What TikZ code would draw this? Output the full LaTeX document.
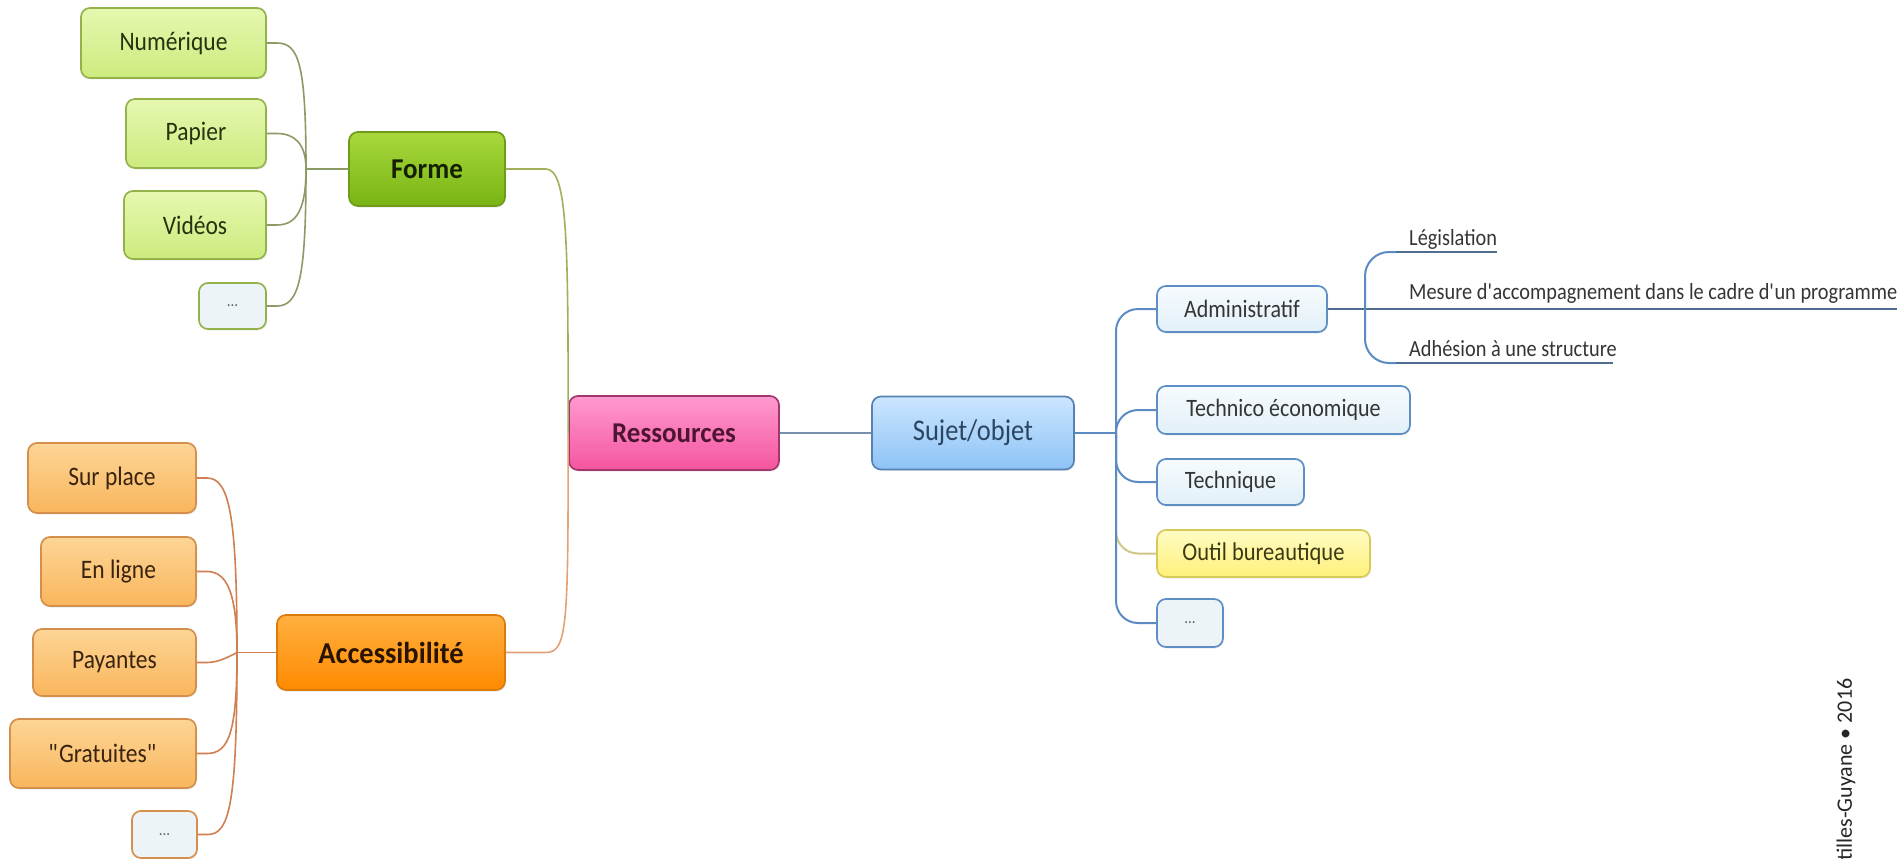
\documentclass[tikz,border=0pt]{standalone}
\usepackage{fontspec}
\setmainfont{Carlito}
\newfontfamily\regf{Carlito}[FakeStretch=0.88]
\newfontfamily\boldf{Carlito}[FakeStretch=0.94]
\usetikzlibrary{shadows}
\definecolor{gTop}{HTML}{E6F8B0}
\definecolor{gBot}{HTML}{CCEB7E}
\definecolor{gBor}{HTML}{93B34A}
\definecolor{gTxt}{HTML}{26330F}
\definecolor{fTop}{HTML}{A8D93C}
\definecolor{fBot}{HTML}{79B414}
\definecolor{fBor}{HTML}{6E9B1A}
\definecolor{fTxt}{HTML}{142000}
\definecolor{oTop}{HTML}{FDD596}
\definecolor{oBot}{HTML}{F9B65C}
\definecolor{oBor}{HTML}{D48F4C}
\definecolor{oTxt}{HTML}{3A2410}
\definecolor{aTop}{HTML}{FFB040}
\definecolor{aBot}{HTML}{FF8A00}
\definecolor{aBor}{HTML}{DB7C0A}
\definecolor{aTxt}{HTML}{2A1400}
\definecolor{rTop}{HTML}{FF9ACF}
\definecolor{rBot}{HTML}{F4559F}
\definecolor{rBor}{HTML}{A3356F}
\definecolor{rTxt}{HTML}{4E1533}
\definecolor{sTop}{HTML}{CBE6FF}
\definecolor{sBot}{HTML}{8EC3F5}
\definecolor{sBor}{HTML}{5683B4}
\definecolor{sTxt}{HTML}{2C4563}
\definecolor{bTop}{HTML}{F6FBFE}
\definecolor{bBot}{HTML}{E2F0F8}
\definecolor{bBor}{HTML}{5D8FC4}
\definecolor{bTxt}{HTML}{353535}
\definecolor{yTop}{HTML}{FFFCC4}
\definecolor{yBot}{HTML}{FFF07A}
\definecolor{yBor}{HTML}{D8CA5A}
\definecolor{yTxt}{HTML}{3B3A12}
\definecolor{dFill}{HTML}{EDF4F8}
\definecolor{dTxt}{HTML}{666666}
\definecolor{fLine}{HTML}{8C9A66}
\definecolor{frLine}{HTML}{A0B05A}
\definecolor{aLine}{HTML}{CF7F50}
\definecolor{arLine}{HTML}{E2A276}
\definecolor{rsLine}{HTML}{7592AA}
\definecolor{bLine}{HTML}{5B8BC2}
\definecolor{yLine}{HTML}{CFC78A}
\definecolor{uLine}{HTML}{4F6E8F}
\begin{document}
\begin{tikzpicture}[x=1pt,y=-1pt,
  box/.style={rounded corners=9pt, line width=1.7pt, inner sep=0pt, align=center,
    drop shadow={shadow xshift=1pt,shadow yshift=-1.5pt,opacity=0.15}},
  gchild/.style={box, draw=gBor, top color=gTop, bottom color=gBot, text=gTxt, font=\regf\fontsize{26.7}{30}\selectfont},
  gdots/.style={box, draw=gBor, fill=dFill, text=dTxt, font=\regf\fontsize{17}{20}\selectfont},
  formebox/.style={box, draw=fBor, top color=fTop, bottom color=fBot, text=fTxt, font=\boldf\fontsize{28.7}{32}\selectfont\bfseries},
  ochild/.style={box, draw=oBor, top color=oTop, bottom color=oBot, text=oTxt, font=\regf\fontsize{26.7}{30}\selectfont},
  odots/.style={box, draw=oBor, fill=dFill, text=dTxt, font=\regf\fontsize{17}{20}\selectfont},
  accbox/.style={box, draw=aBor, top color=aTop, bottom color=aBot, text=aTxt, font=\boldf\fontsize{30.3}{34}\selectfont\bfseries},
  resbox/.style={box, draw=rBor, top color=rTop, bottom color=rBot, text=rTxt, font=\boldf\fontsize{28.7}{32}\selectfont\bfseries},
  sujbox/.style={box, draw=sBor, top color=sTop, bottom color=sBot, text=sTxt, font=\regf\fontsize{30.1}{34}\selectfont},
  bchild/.style={box, draw=bBor, top color=bTop, bottom color=bBot, text=bTxt, font=\regf\fontsize{25}{28}\selectfont},
  bdots/.style={box, draw=bBor, fill=dFill, text=dTxt, font=\regf\fontsize{17}{20}\selectfont},
  ychild/.style={box, draw=yBor, top color=yTop, bottom color=yBot, text=yTxt, font=\regf\fontsize{25.6}{29}\selectfont},
  sublbl/.style={inner sep=0pt, anchor=base west, text=bTxt, font=\regf\fontsize{23.1}{26}\selectfont},
  fcon/.style={draw=fLine, line width=1.6pt},
  frcon/.style={draw=frLine, line width=1.6pt},
  acon/.style={draw=aLine, line width=1.6pt},
  arcon/.style={draw=arLine, line width=1.6pt},
  rscon/.style={draw=rsLine, line width=2pt},
  bcon/.style={draw=bLine, line width=2pt, rounded corners=22pt},
  ycon/.style={draw=yLine, line width=2pt, rounded corners=22pt},
  ucon/.style={draw=uLine, line width=2pt},
  uccon/.style={draw=bLine, line width=2pt, rounded corners=24pt}
]
\useasboundingbox[fill=white] (0,0) rectangle (1899,859);

% ---- Forme branch
\node[gchild, minimum width=185pt, minimum height=70pt] (num) at (173.5,43) {Numérique};
\node[gchild, minimum width=140pt, minimum height=69pt] (pap) at (196,133.5) {Papier};
\node[gchild, minimum width=142pt, minimum height=68pt] (vid) at (195,225) {Vidéos};
\node[gdots, minimum width=67pt, minimum height=46pt] (fdots) at (232.5,306) {...};
\node[formebox, minimum width=156pt, minimum height=74pt] (forme) at (427,169) {Forme};
\coordinate (jf) at (306,169);

% ---- Accessibilite branch
\node[ochild, minimum width=168pt, minimum height=70pt] (sur) at (112,478) {Sur place};
\node[ochild, minimum width=155pt, minimum height=69pt] (enl) at (118.5,571.5) {En ligne};
\node[ochild, minimum width=163pt, minimum height=67pt] (pay) at (114.5,662.5) {Payantes};
\node[ochild, minimum width=186pt, minimum height=69pt] (gra) at (103,753.5) {\textquotedbl Gratuites\textquotedbl};
\node[odots, minimum width=65pt, minimum height=47pt] (adots) at (164.5,834.5) {...};
\node[accbox, minimum width=228pt, minimum height=75pt] (acc) at (391,652.5) {Accessibilité};
\coordinate (ja) at (237,652.5);

% ---- centre
\node[resbox, minimum width=210pt, minimum height=74pt] (res) at (674,433) {Ressources};
\node[sujbox, minimum width=202pt, minimum height=73pt] (suj) at (973,433) {Sujet/objet};
\coordinate (js) at (1116,433);

% ---- Sujet/objet children
\node[bchild, minimum width=170pt, minimum height=46pt] (adm) at (1242,309) {Administratif};
\node[bchild, minimum width=253pt, minimum height=48pt] (tec) at (1283.5,410) {Technico économique};
\node[bchild, minimum width=147pt, minimum height=46pt] (tch) at (1230.5,482) {Technique};
\node[ychild, minimum width=213pt, minimum height=47pt] (out) at (1263.5,553.5) {Outil bureautique};
\node[bdots, minimum width=66pt, minimum height=48pt] (bdots) at (1190,623) {...};

% ---- Administratif sub-items
\node[sublbl] (leg) at (1409,245) {Législation};
\node[sublbl] (mes) at (1409,299) {Mesure d\textquotesingle accompagnement dans le cadre d\textquotesingle un programme};
\node[sublbl] (adh) at (1409,356) {Adhésion à une structure};
\coordinate (ka) at (1365,309);
\coordinate (mend) at (1897,309);
\coordinate (legA) at (1396,252);
\coordinate (legB) at (1497,252);
\coordinate (adhA) at (1396,363);
\coordinate (adhB) at (1613,363);

% ---- copyright (cut)
\node[rotate=90, anchor=west, inner sep=0pt, text=black!85, font=\fontsize{22}{26}\selectfont] (copy) at (1846,861) {tilles-Guyane • 2016};

% ---- connectors: Forme
\draw[fcon] (forme.west) -- (jf);
\draw[fcon] (num.east) -- ++(10,0) .. controls +(22,0) and +(0,-105) .. (jf);
\draw[fcon] (pap.east) -- ++(10,0) .. controls +(18,0) and +(0,-25) .. (jf);
\draw[fcon] (vid.east) -- ++(10,0) .. controls +(20,0) and +(0,40) .. (jf);
\draw[fcon] (fdots.east) -- ++(10,0) .. controls +(22,0) and +(0,110) .. (jf);

% ---- connectors: Accessibilite
\draw[acon] (acc.west) -- (ja);
\draw[acon] (sur.east) -- ++(10,0) .. controls +(22,0) and +(0,-140) .. (ja);
\draw[acon] (enl.east) -- ++(10,0) .. controls +(20,0) and +(0,-60) .. (ja);
\draw[acon] (pay.east) -- ++(10,0) .. controls +(12,0) and +(-8,4) .. (ja);
\draw[acon] (gra.east) -- ++(10,0) .. controls +(22,0) and +(0,80) .. (ja);
\draw[acon] (adots.east) -- ++(10,0) .. controls +(22,0) and +(0,150) .. (ja);

% ---- to Ressources
\draw[frcon] (forme.east) -- ++(40,0) .. controls +(22,0) and +(0,-190) .. (res.west);
\draw[arcon] (acc.east) -- ++(40,0) .. controls +(22,0) and +(0,190) .. (res.west);
\draw[rscon] (res.east) -- (suj.west);

% ---- Sujet/objet fan
\draw[ycon] (js) |- (out.west);
\draw[bcon] (suj.east) -- (js);
\draw[bcon] (js) |- (adm.west);
\draw[bcon] (js) |- (tec.west);
\draw[bcon] (js) |- (tch.west);
\draw[bcon] (js) |- (bdots.west);

% ---- Administratif fan
\draw[ucon] (adm.east) -- (mend);
\draw[uccon] (ka) |- (legA);
\draw[ucon] (legA) -- (legB);
\draw[uccon] (ka) |- (adhA);
\draw[ucon] (adhA) -- (adhB);
\end{tikzpicture}
\end{document}
